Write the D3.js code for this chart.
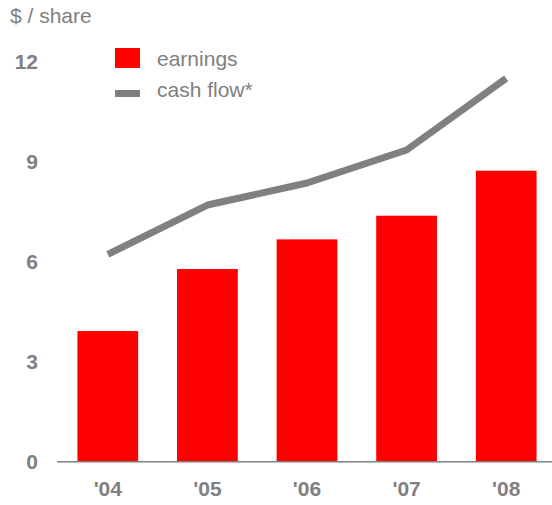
<!DOCTYPE html>
<html>
<head>
<meta charset="utf-8">
<script src="https://cdn.jsdelivr.net/npm/d3@7"></script>
<style>
  html, body { margin: 0; padding: 0; background: #fff; }
  svg { display: block; font-family: "Liberation Sans", Arial, sans-serif; }
</style>
</head>
<body>
<svg id="chart" width="552" height="505"></svg>
<script>
const years = ["'04", "'05", "'06", "'07", "'08"];
const earnings = [3.92, 5.78, 6.67, 7.38, 8.73];
const cashFlow = [6.22, 7.70, 8.36, 9.35, 11.50];
const yTicks = [0, 3, 6, 9, 12];
const seriesNames = ["earnings", "cash flow*"];

const svg = d3.select("#chart");
const gray = "#808080";
const red = "#ff0000";
const fs = 21;

const x = d3.scaleBand().domain(years).range([58, 556]).paddingInner(0.39).paddingOuter(0.195);
const y = d3.scaleLinear().domain([0, 12]).range([461.7, 61.7]);

// bars
svg.append("g").selectAll("rect").data(years).join("rect")
  .attr("x", d => x(d))
  .attr("width", x.bandwidth())
  .attr("y", (d, i) => y(earnings[i]))
  .attr("height", (d, i) => y(0) - y(earnings[i]))
  .attr("fill", red);

// x axis line
svg.append("line")
  .attr("x1", 57).attr("x2", 552)
  .attr("y1", y(0)).attr("y2", y(0))
  .attr("stroke", gray).attr("stroke-width", 1.5);

// line
const line = d3.line()
  .x((d, i) => x(years[i]) + x.bandwidth() / 2)
  .y(d => y(d));
svg.append("path")
  .datum(cashFlow)
  .attr("d", line)
  .attr("fill", "none")
  .attr("stroke", gray)
  .attr("stroke-width", 7)
  .attr("stroke-linejoin", "round");

// y tick labels
const yAxis = d3.axisLeft(y).tickValues(yTicks).tickSize(0).tickPadding(0);
const yg = svg.append("g").attr("transform", "translate(38,0)").call(yAxis);
yg.select(".domain").remove();
yg.selectAll("text")
  .attr("fill", gray)
  .attr("font-size", fs)
  .attr("font-weight", "bold")
  .attr("font-family", "Liberation Sans, Arial, sans-serif")
  .attr("dy", "0.3em");

// x tick labels
const xAxis = d3.axisBottom(x).tickSize(0).tickPadding(0);
const xg = svg.append("g").attr("transform", "translate(0,481)").call(xAxis);
xg.select(".domain").remove();
xg.selectAll("text")
  .attr("fill", gray)
  .attr("font-size", fs)
  .attr("font-weight", "bold")
  .attr("font-family", "Liberation Sans, Arial, sans-serif")
  .attr("dy", "0.71em");

// unit label
svg.append("text")
  .attr("x", 10).attr("y", 23)
  .attr("fill", gray)
  .attr("font-size", fs)
  .text("$ / share");

// legend
const lg = svg.append("g");
lg.append("rect").attr("x", 115).attr("y", 48).attr("width", 25).attr("height", 20).attr("fill", red);
lg.append("line").attr("x1", 115).attr("x2", 140).attr("y1", 93.5).attr("y2", 93.5)
  .attr("stroke", gray).attr("stroke-width", 7);
lg.selectAll("text").data(seriesNames).join("text")
  .attr("x", 157)
  .attr("y", (d, i) => 59 + i * 31)
  .attr("dy", "0.35em")
  .attr("fill", gray)
  .attr("font-size", fs)
  .text(d => d);
</script>
</body>
</html>
